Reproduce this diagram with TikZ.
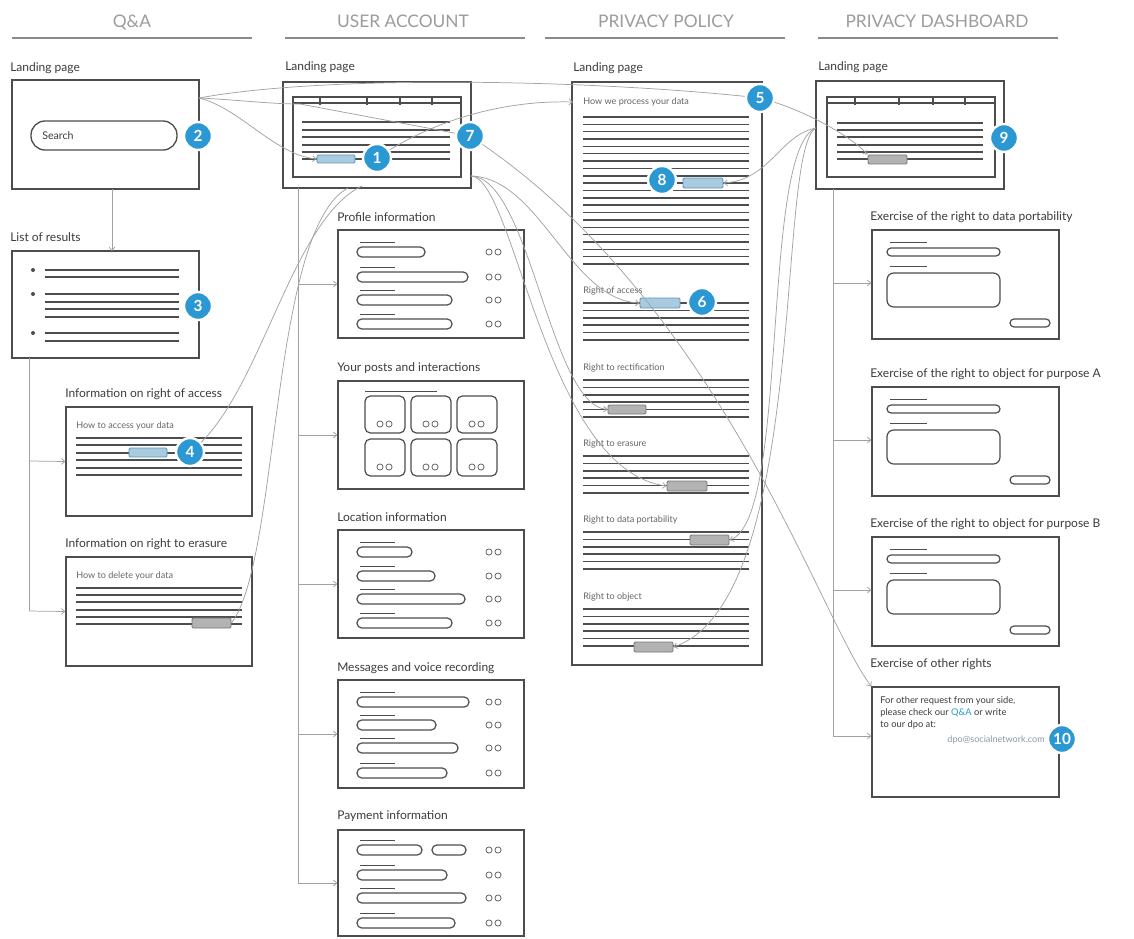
\documentclass[tikz,border=0pt]{standalone}
\usepackage{fontspec}
\setmainfont{Lato}
\usetikzlibrary{arrows.meta,fit}
\definecolor{ink}{HTML}{4D4D4D}
\definecolor{txt}{HTML}{3C3C3C}
\definecolor{hdr}{HTML}{9C9C9C}
\definecolor{hdrline}{HTML}{8A8A8A}
\definecolor{conn}{HTML}{A2A2A2}
\definecolor{badgeblue}{HTML}{2B98D4}
\definecolor{hlfill}{HTML}{A8CBE0}
\definecolor{hldraw}{HTML}{5F93B3}
\definecolor{btnfill}{HTML}{B3B3B3}
\definecolor{btndraw}{HTML}{777777}
\definecolor{soft}{HTML}{666666}
\definecolor{mail}{HTML}{8A9AA6}
\begin{document}
\begin{tikzpicture}[x=0.75pt,y=-0.75pt,
  pagebox/.style={draw=ink,line width=1pt,inner sep=0pt},
  innerbox/.style={draw=ink,line width=0.9pt,inner sep=0pt},
  tline/.style={draw=ink,line width=1.1pt},
  hair/.style={draw=ink,line width=0.5pt},
  pill/.style={draw=ink,line width=0.9pt,rounded corners=3.6pt},
  tile/.style={draw=ink,line width=0.9pt,rounded corners=4pt},
  lbl/.style={anchor=base west,inner sep=0pt,text=txt,font=\fontsize{9}{10}\selectfont},
  hdrtxt/.style={anchor=base,inner sep=0pt,text=hdr,font=\fontsize{13}{14}\selectfont},
  smalltxt/.style={anchor=base west,inner sep=0pt,text=soft,font=\fontsize{6.8}{8}\selectfont},
  badge/.style={circle,fill=badgeblue,draw=white,line width=1.8pt,minimum size=21pt,inner sep=0pt,text=white,font=\bfseries\fontsize{11.5}{12}\selectfont},
  hlbtn/.style={draw=hldraw,fill=hlfill,line width=0.7pt,inner sep=0pt,rounded corners=1pt},
  graybtn/.style={draw=btndraw,fill=btnfill,line width=0.7pt,inner sep=0pt,rounded corners=1pt},
  conn/.style={draw=conn,line width=0.55pt},
  arr/.style={-{Straight Barb[length=2.6pt,width=4.4pt]}},
  eyes/.style={draw=soft,line width=0.6pt},
]
\fill[white] (0,0) rectangle (1134,938);
\useasboundingbox (0,0) rectangle (1134,938);

% ---------- headers
\node[hdrtxt] (hqa) at (132,28) {Q\&A};
\node[hdrtxt] (hua) at (403,28) {USER ACCOUNT};
\node[hdrtxt] (hpp) at (666,28) {PRIVACY POLICY};
\node[hdrtxt] (hpd) at (937,28) {PRIVACY DASHBOARD};
\foreach \a/\b in {12/252,285/525,545/785,818/1058}
  \draw[hdrline,line width=2pt] (\a,38) -- (\b,38);

% ---------- badge centres
\coordinate (cb1) at (377,158);
\coordinate (cb2) at (198,136);
\coordinate (cb3) at (198,306);
\coordinate (cb4) at (190,452);
\coordinate (cb5) at (760,98);
\coordinate (cb6) at (702,302);
\coordinate (cb7) at (470,136);
\coordinate (cb8) at (662,180);
\coordinate (cb9) at (1004,138);
\coordinate (cb10) at (1062,739);

% ---------- Q&A column
\node[lbl] (lqa) at (10,72) {Landing page};
\node[pagebox,fit={(12,80) (199,189)}] (qaland) {};
\node[pagebox,rounded corners=10.5pt,fit={(31,121) (177,150)}] (search) {};
\node[anchor=west,inner sep=0pt,text=txt,font=\fontsize{8}{9}\selectfont] (searchtxt) at (42,136) {Search};

\node[lbl] (lres) at (10,241) {List of results};
\node[pagebox,fit={(12,251) (199,358)}] (results) {};
\foreach \y in {270,294,333} \fill[ink] (33,\y) circle (1.5pt);
\foreach \y in {270,277,294,302,309,317,333,341} \draw[tline] (45,\y) -- (179,\y);

\node[lbl] (lacc) at (65,397) {Information on right of access};
\node[pagebox,fit={(66,407) (252,516)}] (accq) {};
\node[smalltxt] (acctxt) at (76,428) {How to access your data};
\foreach \y in {438,445,453,460,468,475} \draw[tline] (76,\y) -- (242,\y);
\node[hlbtn,fit={(129,448) (167,457)}] (accbtnq) {};

\node[lbl] (lera) at (65,547) {Information on right to erasure};
\node[pagebox,fit={(66,557) (252,666)}] (eraq) {};
\node[smalltxt] (eratxt) at (76,578) {How to delete your data};
\foreach \y in {588,595,602,610,617,624} \draw[tline] (76,\y) -- (242,\y);
\node[graybtn,fit={(192,618) (231,628)}] (erabtnq) {};

\coordinate (qadown) at (112,189);
\coordinate (resin) at (112,251);
\draw[conn,arr] (qadown) -- (resin);
\coordinate (restrunk) at (29,358);
\coordinate (t1) at (29,461);
\coordinate (t2) at (29,611);
\draw[conn] (restrunk) -- (t2);
\draw[conn,arr] (t1) -- (accq.west);
\draw[conn,arr] (t2) -- (eraq.west);

% ---------- User account column
\node[lbl] (lul) at (285,71) {Landing page};
\node[pagebox,fit={(283,82) (471,188)}] (uland) {};
\node[innerbox,fit={(293,97) (461,177)}] (uinner) {};
\draw[innerbox] (293,103) -- (461,103);
\foreach \x in {320,367,400,432} \draw[innerbox] (\x,97) -- (\x,105);
\foreach \y in {122,130,137,145,152,159} \draw[tline] (302,\y) -- (450,\y);
\node[hlbtn,fit={(317,155) (355,163)}] (btn1) {};

\coordinate (utop) at (298,188);
\coordinate (ubot) at (298,884);
\draw[conn] (utop) -- (ubot);

% profile
\node[lbl] (lprof) at (337,221) {Profile information};
\node[pagebox,fit={(338,230) (524,338)}] (prof) {};
\foreach \y/\e in {252/425,277/468,300/452,324/452}{
  \draw[hair] (360,\y-10) -- (395,\y-10);
  \draw[pill] (357,\y-5) rectangle (\e,\y+5);
  \draw[eyes] (489,\y) circle (2.3pt) (498,\y) circle (2.3pt);}
% posts
\node[lbl] (lpost) at (337,371) {Your posts and interactions};
\node[pagebox,fit={(338,381) (524,489)}] (posts) {};
\draw[hair] (365,391) -- (437,391);
\foreach \x in {365,411,457}{\foreach \y in {396,439}{
  \draw[tile] (\x,\y) rectangle (\x+40,\y+37);
  \draw[eyes] (\x+15,\y+28) circle (2.3pt) (\x+24,\y+28) circle (2.3pt);}}
% location
\node[lbl] (lloc) at (337,521) {Location information};
\node[pagebox,fit={(338,530) (524,638)}] (loc) {};
\foreach \y/\e in {552/412,576/435,599/465,623/452}{
  \draw[hair] (360,\y-10) -- (395,\y-10);
  \draw[pill] (357,\y-5) rectangle (\e,\y+5);
  \draw[eyes] (489,\y) circle (2.3pt) (498,\y) circle (2.3pt);}
% messages
\node[lbl] (lmsg) at (337,671) {Messages and voice recording};
\node[pagebox,fit={(338,680) (524,788)}] (msg) {};
\foreach \y/\e in {702/469,725/436,748/458,773/447}{
  \draw[hair] (360,\y-10) -- (395,\y-10);
  \draw[pill] (357,\y-5) rectangle (\e,\y+5);
  \draw[eyes] (489,\y) circle (2.3pt) (498,\y) circle (2.3pt);}
% payment
\node[lbl] (lpay) at (337,819) {Payment information};
\node[pagebox,fit={(338,830) (524,936)}] (pay) {};
\foreach \y/\e in {850/422,875/447,898/466,923/455}{
  \draw[hair] (360,\y-10) -- (395,\y-10);
  \draw[pill] (357,\y-5) rectangle (\e,\y+5);
  \draw[eyes] (489,\y) circle (2.3pt) (498,\y) circle (2.3pt);}
\draw[pill] (432,845) rectangle (466,855);

\foreach \n/\y in {prof/284,posts/435,loc/584,msg/734,pay/883}{
  \coordinate (u\n) at (298,\y);
  \draw[conn,arr] (u\n) -- (\n.west |- u\n);}

% ---------- Privacy policy column
\node[lbl] (lpp) at (573,72) {Landing page};
\node[pagebox,fit={(572,82) (762,665)}] (ppland) {};
\node[smalltxt] (pphow) at (583,105) {How we process your data};
\foreach \i in {0,...,20} \draw[tline] (583,117+\i*7.35) -- (749,117+\i*7.35);
\node[hlbtn,fit={(683,178) (723,188)}] (btn8) {};
\foreach \t/\s in {290/Right of access,367/Right to rectification,443/Right to erasure,519/Right to data portability,596/Right to object}{
  \node[smalltxt] at (583,\t+3) {\s};
  \foreach \k in {0,...,5} \draw[tline] (583,\t+13+\k*7.4) -- (749,\t+13+\k*7.4);}
\node[hlbtn,fit={(640,298) (680,308)}] (accbtnp) {};
\node[graybtn,fit={(608,405) (646,414)}] (rectbtn) {};
\node[graybtn,fit={(667,481) (707,491)}] (erabtnp) {};
\node[graybtn,fit={(690,535) (729,545)}] (portbtn) {};
\node[graybtn,fit={(634,642) (673,652)}] (objbtn) {};

% ---------- Privacy dashboard column
\node[lbl] (lpd) at (818,71) {Landing page};
\node[pagebox,fit={(816,81) (1004,189)}] (dland) {};
\node[innerbox,fit={(827,97) (995,177)}] (dinner) {};
\draw[innerbox] (827,103) -- (995,103);
\foreach \x in {855,899,933,965} \draw[innerbox] (\x,97) -- (\x,105);
\foreach \y in {123,130,137,145,152,159} \draw[tline] (837,\y) -- (983,\y);
\node[graybtn,fit={(868,155) (907,164)}] (dbtn) {};

\coordinate (dtop) at (833,189);
\coordinate (dbot) at (833,736);
\draw[conn] (dtop) -- (dbot);

\foreach \n/\T/\s in {pdA/230/Exercise of the right to data portability,pdB/387/Exercise of the right to object for purpose A,pdC/537/Exercise of the right to object for purpose B}{
  \node[lbl] (l\n) at (870,\T-10) {\s};
  \node[pagebox,fit={(872,\T) (1059,\T+109)}] (\n) {};
  \draw[hair] (890,\T+12) -- (927,\T+12);
  \draw[pill,rounded corners=3pt] (887,\T+18) rectangle (1000,\T+26);
  \draw[hair] (890,\T+36) -- (927,\T+36);
  \draw[pill,rounded corners=5pt] (887,\T+43) rectangle (1000,\T+77);
  \draw[pill,rounded corners=3pt] (1010,\T+89) rectangle (1050,\T+97);
  \coordinate (d\n) at (833,\T+53);
  \draw[conn,arr] (d\n) -- (\n.west |- d\n);}

\node[lbl] (loth) at (870,667) {Exercise of other rights};
\node[pagebox,fit={(872,687) (1059,797)}] (pdD) {};
\node[anchor=north west,inner sep=0pt,align=left,text=txt,font=\fontsize{7}{9}\selectfont] (othtxt) at (880,696)
  {For other request from your side,\\ please check our \textcolor{badgeblue}{Q\&A} or write\\ to our dpo at:};
\node[anchor=base east,inner sep=0pt,text=mail,font=\fontsize{6.8}{8}\selectfont] (email) at (1045,742) {dpo@socialnetwork.com};
\coordinate (dpdD) at (833,736);
\draw[conn,arr] (dpdD) -- (pdD.west |- dpdD);

% ---------- cross links
\coordinate (qaout) at (199,98);
\coordinate (utab) at (300,104);
\coordinate (ulout) at (471,176);
\coordinate (ppin) at (573,102);
\coordinate (dlin) at (816,128);
\coordinate (ubA) at (362,186);
\coordinate (ubB) at (348,188);
\draw[conn] (qaout) .. controls (330,74) and (600,80) .. (cb5);
\draw[conn,arr] (cb5) .. controls (800,108) and (850,135) .. (dbtn.north west);
\draw[conn] (qaout) .. controls (240,100) and (270,104) .. (utab) -- (cb7);
\draw[conn,arr] (cb7) .. controls (720,300) and (820,620) .. (pdD.north west);
\draw[conn,arr] (qaout) .. controls (240,108) and (275,155) .. (btn1.west);
\draw[conn,arr] (cb1) .. controls (430,122) and (500,100) .. (ppin);
\draw[conn,arr] (ulout) .. controls (540,178) and (570,300) .. (accbtnp.west);
\draw[conn,arr] (ulout) .. controls (530,178) and (550,405) .. (rectbtn.west);
\draw[conn,arr] (ulout) .. controls (515,178) and (545,470) .. (erabtnp.west);
\draw[conn] (cb4) .. controls (260,400) and (290,220) .. (ubA);
\draw[conn] (erabtnq.east) .. controls (280,560) and (270,230) .. (ubB);
\draw[conn,arr] (dlin) .. controls (780,135) and (770,180) .. (btn8.east);
\draw[conn,arr] (dlin) .. controls (760,150) and (790,520) .. (portbtn.east);
\draw[conn,arr] (dlin) .. controls (775,150) and (810,600) .. (objbtn.east);

% ---------- badges on top
\foreach \n in {1,...,10}
  \node[badge] (b\n) at (cb\n) {\n};
\end{tikzpicture}
\end{document}
